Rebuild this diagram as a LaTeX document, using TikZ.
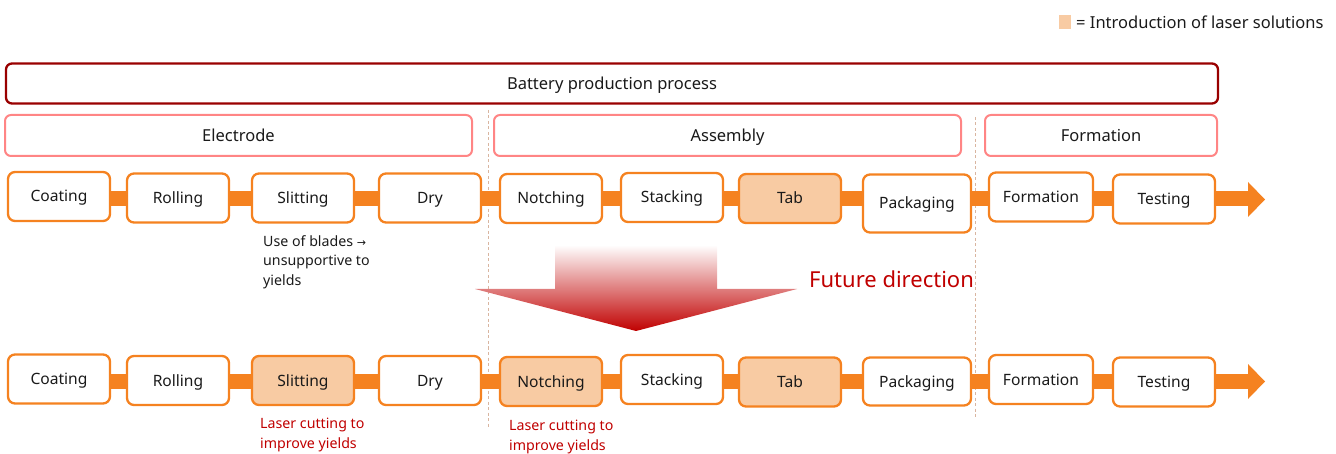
\documentclass[tikz,border=0pt]{standalone}
\usepackage{fontspec}
\setmainfont{Noto Sans}
\newfontfamily\symfont{DejaVu Sans}
\definecolor{procorange}{HTML}{F58220}
\definecolor{laserfill}{HTML}{F8CBA3}
\definecolor{darkred}{HTML}{990000}
\definecolor{pinkline}{HTML}{FF8585}
\definecolor{futurered}{HTML}{C00000}
\definecolor{dashtan}{HTML}{D9B5A0}
\definecolor{txt}{HTML}{1A1A1A}
\tikzset{
  stepbox/.style={draw=procorange, line width=2.3pt, rounded corners=7pt, fill=white,
    minimum width=102pt, minimum height=49pt, inner sep=0pt, text=txt,
    text height=11pt, text depth=0pt, font=\fontsize{15.6}{18}\selectfont},
  laserbox/.style={stepbox, fill=laserfill},
  phasebox/.style={draw=pinkline, line width=2pt, rounded corners=6pt, fill=white,
    minimum height=41pt, inner sep=0pt, text=txt, text height=11.5pt, text depth=0pt,
    font=\fontsize{16.5}{19}\selectfont},
  band/.style={draw=procorange, line width=15pt},
  headfill/.style={fill=procorange},
  sep/.style={draw=dashtan, line width=0.8pt, dash pattern=on 3pt off 2.5pt},
  note/.style={align=left, anchor=north west, inner sep=0pt, font=\fontsize{14.2}{19.8}\selectfont},
}
\begin{document}
\begin{tikzpicture}[x=1pt,y=-1pt]
\useasboundingbox (0,0) rectangle (1336,454);

% legend
\fill[laserfill] (1059,15) rectangle (1071,29);
\node[anchor=west, inner sep=0pt, text=txt, font=\fontsize{16.5}{19}\selectfont] (legend) at (1076,22) {= Introduction of laser solutions};

% header boxes
\node[draw=darkred, line width=2.3pt, rounded corners=6pt, minimum width=1212pt, minimum height=40pt, inner sep=0pt, text=txt, text height=11.5pt, text depth=0pt, font=\fontsize{16.5}{19}\selectfont] (bpp) at (612,83.5) {Battery production process};
\node[phasebox, minimum width=467pt] (electrode) at (238.5,135.5) {Electrode};
\node[phasebox, minimum width=467pt] (assembly) at (727.5,135.5) {Assembly};
\node[phasebox, minimum width=232pt] (formationphase) at (1101,135.5) {Formation};

% separators
\coordinate (s1a) at (488,110); \coordinate (s1b) at (488,428);
\coordinate (s2a) at (975,117); \coordinate (s2b) at (975,418);
\draw[sep] (s1a) -- (s1b);
\draw[sep] (s2a) -- (s2b);

% row 1 band
\coordinate (h1b) at (1248,199);
\coordinate (h1t) at (1248,182);
\coordinate (h1d) at (1248,217);
\coordinate (h1tip) at (1265,199.5);
\coordinate (b1s) at (10,199);
\draw[band] (b1s) -- (h1b);
\fill[headfill] (h1t) -- (h1tip) -- (h1d) -- cycle;

% row 2 band
\coordinate (h2b) at (1248,381);
\coordinate (h2t) at (1248,364);
\coordinate (h2d) at (1248,399);
\coordinate (h2tip) at (1265,381.5);
\coordinate (b2s) at (10,381);
\draw[band] (b2s) -- (h2b);
\fill[headfill] (h2t) -- (h2tip) -- (h2d) -- cycle;

% row 1 boxes
\node[stepbox] (a1) at (59,196.5) {Coating};
\node[stepbox] (a2) at (178,198) {Rolling};
\node[stepbox] (a3) at (303,198) {Slitting};
\node[stepbox] (a4) at (430,198) {Dry};
\node[stepbox] (a5) at (551,198.5) {Notching};
\node[stepbox] (a6) at (672,197.5) {Stacking};
\node[laserbox] (a7) at (790,198.5) {Tab};
\node[stepbox, minimum width=108pt, minimum height=58pt] (a8) at (917,203.5) {Packaging};
\node[stepbox, minimum width=104pt] (a9) at (1041,197) {Formation};
\node[stepbox] (a10) at (1164,199) {Testing};

% row 2 boxes
\node[stepbox] (b1) at (59,379) {Coating};
\node[stepbox] (b2) at (178,380.5) {Rolling};
\node[laserbox] (b3) at (303,380.5) {Slitting};
\node[stepbox] (b4) at (430,380.5) {Dry};
\node[laserbox] (b5) at (551,381.5) {Notching};
\node[stepbox] (b6) at (672,379.5) {Stacking};
\node[laserbox] (b7) at (790,382) {Tab};
\node[stepbox, minimum width=108pt, minimum height=48pt] (b8) at (917,381.5) {Packaging};
\node[stepbox, minimum width=104pt] (b9) at (1041,379.5) {Formation};
\node[stepbox] (b10) at (1164,382) {Testing};

% notes
\node[note, text=txt] (blades) at (263,235) {Use of blades {\symfont\fontsize{11}{19.8}\selectfont →}\\unsupportive to\\yields};
\node[note, text=futurered] (laser1) at (260,418) {Laser cutting to\\improve yields};
\node[note, text=futurered] (laser2) at (509,420) {Laser cutting to\\improve yields};

% future direction arrow
\shade[top color=white, bottom color=futurered]
  (555,245) -- (717,245) -- (717,289) -- (797,289) -- (636,331) -- (475,289) -- (555,289) -- cycle;
\node[anchor=west, inner sep=0pt, text=futurered, font=\fontsize{22}{25}\selectfont] (future) at (809,279) {Future direction};
\end{tikzpicture}
\end{document}
